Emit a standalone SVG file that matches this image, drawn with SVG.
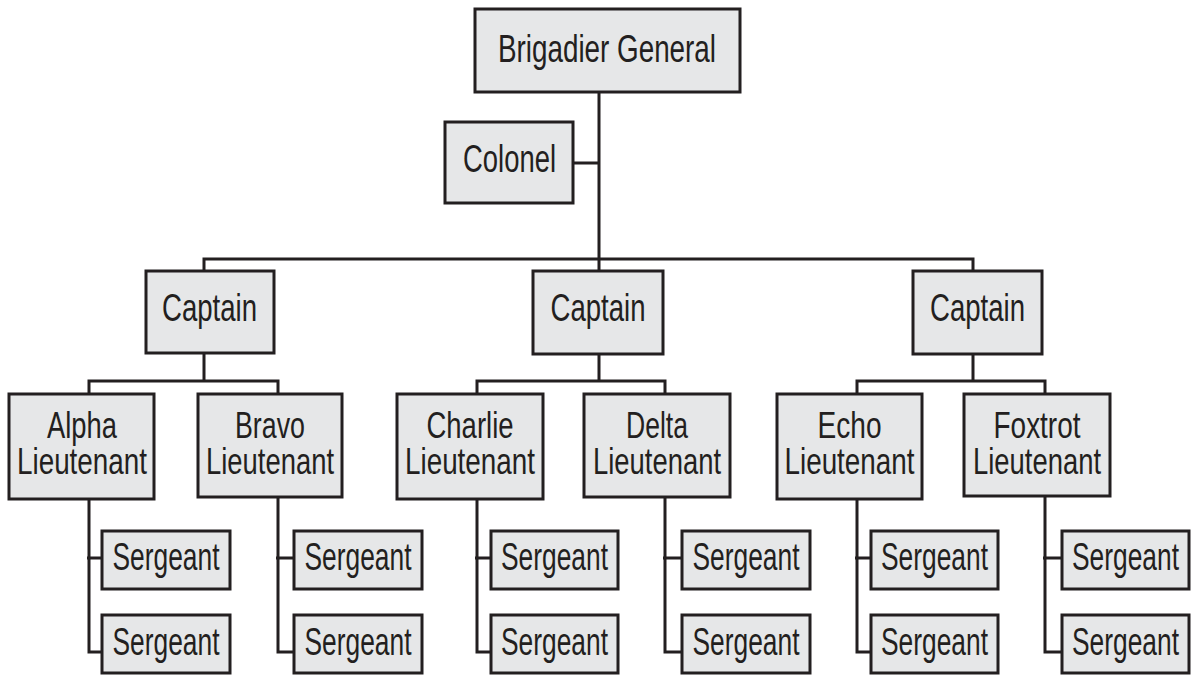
<svg xmlns="http://www.w3.org/2000/svg" width="1191" height="677" viewBox="0 0 1191 677">
<style>
.box{fill:#e6e7e8;stroke:#231f20;stroke-width:3}
.t{font-family:"Liberation Sans Narrow","Liberation Sans",Arial,sans-serif;font-size:38px;fill:#231f20;text-anchor:middle}
.l{font-size:36px}
.c{fill:none;stroke:#231f20;stroke-width:3;stroke-linecap:butt;stroke-linejoin:miter}
</style>
<rect width="1191" height="677" fill="#ffffff"/>
<g id="connectors">
<path class="c" d="M599,92V271M573,163H599M204,271V259H973V271"/>
<path class="c" d="M204,353V381M89,394V381H278V394"/>
<path class="c" d="M599,354V381M477,394V381H665V394"/>
<path class="c" d="M973,354V381M857,394V381H1045V394"/>
<path class="c" d="M89,499V652H102M87,558H102"/>
<path class="c" d="M278,497V652H294M276,558H294"/>
<path class="c" d="M477,499V652H491M475,558H491"/>
<path class="c" d="M665,497V652H682M663,558H682"/>
<path class="c" d="M857,499V652H871M855,558H871"/>
<path class="c" d="M1045,496V652H1062M1043,558H1062"/>
</g>
<g id="brigadier"><rect class="box" x="475" y="9" width="265" height="83"/><text class="t" x="607" y="62" textLength="218" lengthAdjust="spacingAndGlyphs">Brigadier General</text></g>
<g id="colonel"><rect class="box" x="445" y="122" width="128" height="81"/><text class="t" x="509.5" y="172" textLength="93" lengthAdjust="spacingAndGlyphs">Colonel</text></g>
<g id="captain1"><rect class="box" x="146" y="271" width="128" height="82"/><text class="t" x="209.5" y="321" textLength="95" lengthAdjust="spacingAndGlyphs">Captain</text></g>
<g id="captain2"><rect class="box" x="533" y="271" width="130" height="83"/><text class="t" x="598" y="321" textLength="95" lengthAdjust="spacingAndGlyphs">Captain</text></g>
<g id="captain3"><rect class="box" x="913" y="271" width="129" height="83"/><text class="t" x="977.5" y="321" textLength="95" lengthAdjust="spacingAndGlyphs">Captain</text></g>
<g id="alpha"><rect class="box" x="9" y="394" width="145" height="105"/><text class="t l" x="82" y="438" textLength="70" lengthAdjust="spacingAndGlyphs">Alpha</text><text class="t l" x="82" y="474" textLength="130" lengthAdjust="spacingAndGlyphs">Lieutenant</text></g>
<g id="bravo"><rect class="box" x="198" y="394" width="144" height="103"/><text class="t l" x="270" y="438" textLength="70" lengthAdjust="spacingAndGlyphs">Bravo</text><text class="t l" x="270" y="474" textLength="128" lengthAdjust="spacingAndGlyphs">Lieutenant</text></g>
<g id="charlie"><rect class="box" x="397" y="394" width="146" height="105"/><text class="t l" x="470" y="438" textLength="87" lengthAdjust="spacingAndGlyphs">Charlie</text><text class="t l" x="470" y="474" textLength="130" lengthAdjust="spacingAndGlyphs">Lieutenant</text></g>
<g id="delta"><rect class="box" x="584" y="394" width="146" height="103"/><text class="t l" x="657" y="438" textLength="62" lengthAdjust="spacingAndGlyphs">Delta</text><text class="t l" x="657" y="474" textLength="128" lengthAdjust="spacingAndGlyphs">Lieutenant</text></g>
<g id="echo"><rect class="box" x="777" y="394" width="145" height="105"/><text class="t l" x="849.5" y="438" textLength="64" lengthAdjust="spacingAndGlyphs">Echo</text><text class="t l" x="849.5" y="474" textLength="130" lengthAdjust="spacingAndGlyphs">Lieutenant</text></g>
<g id="foxtrot"><rect class="box" x="964" y="394" width="146" height="102"/><text class="t l" x="1037" y="438" textLength="87" lengthAdjust="spacingAndGlyphs">Foxtrot</text><text class="t l" x="1037" y="474" textLength="128" lengthAdjust="spacingAndGlyphs">Lieutenant</text></g>
<g id="sgtA1"><rect class="box" x="102" y="531" width="128" height="58"/><text class="t" x="166" y="570" textLength="107" lengthAdjust="spacingAndGlyphs">Sergeant</text></g>
<g id="sgtA2"><rect class="box" x="102" y="615" width="128" height="58"/><text class="t" x="166" y="655" textLength="107" lengthAdjust="spacingAndGlyphs">Sergeant</text></g>
<g id="sgtB1"><rect class="box" x="294" y="531" width="128" height="58"/><text class="t" x="358" y="570" textLength="107" lengthAdjust="spacingAndGlyphs">Sergeant</text></g>
<g id="sgtB2"><rect class="box" x="294" y="615" width="128" height="58"/><text class="t" x="358" y="655" textLength="107" lengthAdjust="spacingAndGlyphs">Sergeant</text></g>
<g id="sgtC1"><rect class="box" x="491" y="531" width="127" height="58"/><text class="t" x="554.5" y="570" textLength="107" lengthAdjust="spacingAndGlyphs">Sergeant</text></g>
<g id="sgtC2"><rect class="box" x="491" y="615" width="127" height="58"/><text class="t" x="554.5" y="655" textLength="107" lengthAdjust="spacingAndGlyphs">Sergeant</text></g>
<g id="sgtD1"><rect class="box" x="682" y="531" width="128" height="58"/><text class="t" x="746" y="570" textLength="107" lengthAdjust="spacingAndGlyphs">Sergeant</text></g>
<g id="sgtD2"><rect class="box" x="682" y="615" width="128" height="58"/><text class="t" x="746" y="655" textLength="107" lengthAdjust="spacingAndGlyphs">Sergeant</text></g>
<g id="sgtE1"><rect class="box" x="871" y="531" width="127" height="58"/><text class="t" x="934.5" y="570" textLength="107" lengthAdjust="spacingAndGlyphs">Sergeant</text></g>
<g id="sgtE2"><rect class="box" x="871" y="615" width="127" height="58"/><text class="t" x="934.5" y="655" textLength="107" lengthAdjust="spacingAndGlyphs">Sergeant</text></g>
<g id="sgtF1"><rect class="box" x="1062" y="531" width="127" height="58"/><text class="t" x="1125.5" y="570" textLength="107" lengthAdjust="spacingAndGlyphs">Sergeant</text></g>
<g id="sgtF2"><rect class="box" x="1062" y="615" width="127" height="58"/><text class="t" x="1125.5" y="655" textLength="107" lengthAdjust="spacingAndGlyphs">Sergeant</text></g>
</svg>
